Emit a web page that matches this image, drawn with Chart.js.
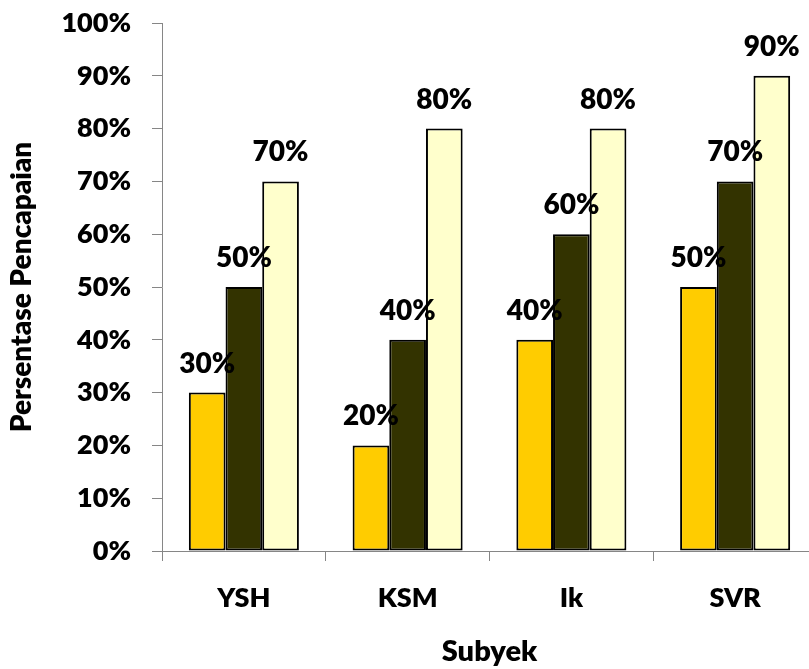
<!DOCTYPE html>
<html>
<head>
<meta charset="utf-8">
<script src="https://cdn.jsdelivr.net/npm/chart.js@4"></script>
<style>
  html, body { margin: 0; padding: 0; background: #fff; overflow: hidden; }
  #wrap { width: 830px; height: 669px; position: relative; }
</style>
</head>
<body>
<div id="wrap"><canvas id="chart"></canvas></div>
<script>
// ── Data ──────────────────────────────────────────────────────────────────────
const subjects  = ["YSH", "KSM", "Ik", "SVR"];
const series1   = [30, 20, 40, 50];
const series2   = [50, 40, 60, 70];
const series3   = [70, 80, 80, 90];
const yTicks    = [0, 10, 20, 30, 40, 50, 60, 70, 80, 90, 100];

const FONT = "Lato, 'Open Sans', sans-serif";
const WEIGHT = 800;
const AXIS_GRAY = "#868686";

// Value labels above each bar
const barLabels = {
  id: "barLabels",
  afterDatasetsDraw(chart) {
    const ctx = chart.ctx;
    ctx.save();
    ctx.font = `${WEIGHT} 28px ${FONT}`;
    ctx.fillStyle = "#000";
    ctx.textAlign = "center";
    ctx.textBaseline = "alphabetic";
    chart.data.datasets.forEach((ds, i) => {
      chart.getDatasetMeta(i).data.forEach((bar, j) => {
        ctx.fillText(ds.data[j] + "%", bar.x, bar.y - 20);
      });
    });
    ctx.restore();
  }
};

const dataset = (data, color) => ({
  data,
  backgroundColor: color,
  borderColor: "#000",
  borderWidth: 2,
  borderSkipped: false,
  categoryPercentage: 0.672,
  barPercentage: 1,
});

new Chart(document.getElementById("chart"), {
  type: "bar",
  data: {
    labels: subjects,
    datasets: [
      dataset(series1, "#FFCC00"),
      dataset(series2, "#333300"),
      dataset(series3, "#FFFFCC"),
    ],
  },
  options: {
    responsive: true, maintainAspectRatio: false,
    animation: false,
    layout: { padding: { left: 0, right: 13, top: 23, bottom: 0 } },
    plugins: { legend: { display: false }, tooltip: { enabled: false } },
    scales: {
      x: {
        offset: true,
        grid: { offset: true, drawOnChartArea: false, drawTicks: true, tickLength: 10, color: AXIS_GRAY },
        border: { color: AXIS_GRAY, width: 1 },
        ticks: { color: "#000", font: { family: FONT, size: 27, weight: WEIGHT }, padding: 21 },
        title: { display: true, text: "Subyek", color: "#000", font: { family: FONT, size: 29, weight: WEIGHT }, padding: { top: 0, bottom: 0 } },
        afterFit(scale) { scale.height = 118; },
      },
      y: {
        min: 0, max: 100,
        afterBuildTicks(scale) { scale.ticks = yTicks.map(v => ({ value: v })); },
        grid: { drawOnChartArea: false, drawTicks: true, tickLength: 10, color: AXIS_GRAY },
        border: { color: AXIS_GRAY, width: 1 },
        ticks: { color: "#000", font: { family: FONT, size: 27, weight: WEIGHT }, padding: 21, callback: v => v + "%" },
        title: { display: true, text: "Persentase Pencapaian", color: "#000", font: { family: FONT, size: 28, weight: WEIGHT }, padding: { top: 5, bottom: 0 } },
        afterFit(scale) {
          scale.width = 162;
          scale.paddingTop = 0;
          scale.paddingBottom = 0;
        },
      },
    },
  },
  plugins: [barLabels],
});
</script>
</body>
</html>
